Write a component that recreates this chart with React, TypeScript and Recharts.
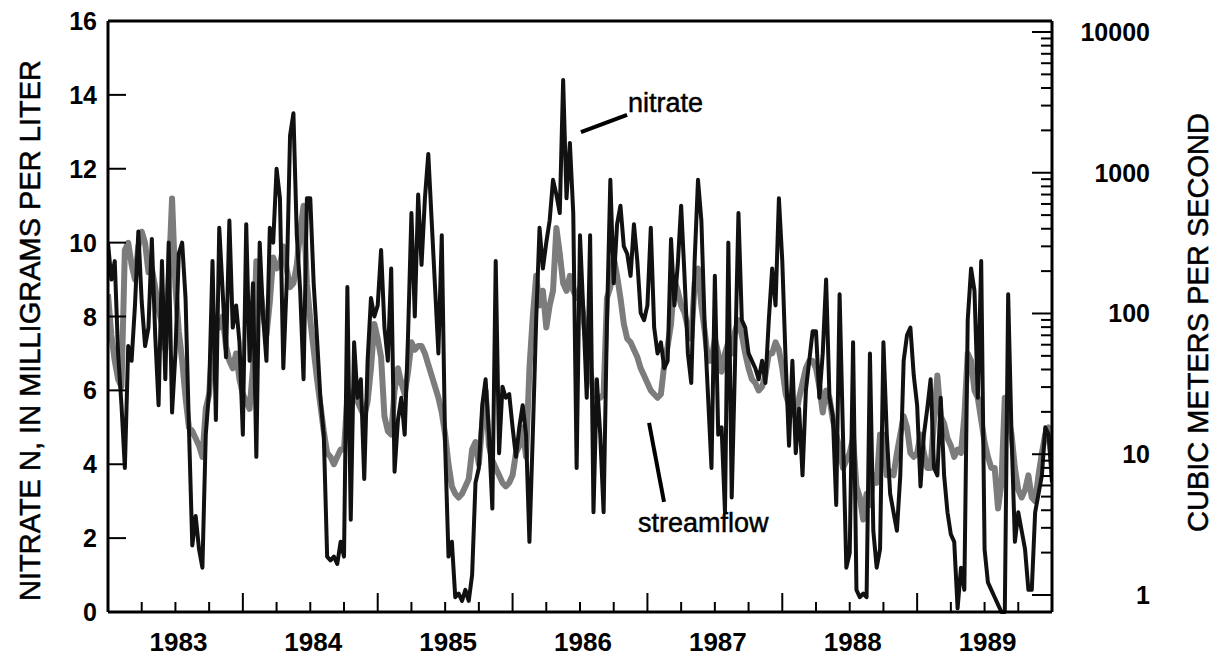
import React from "react";
import { LineChart, Line, XAxis, YAxis, ReferenceLine, ReferenceDot } from "recharts";

// sample dates, decimal years
const years = [
  1983, 1983.025, 1983.05, 1983.075, 1983.1, 1983.125, 1983.15, 1983.175, 1983.2, 1983.225,
  1983.25, 1983.275, 1983.3, 1983.325, 1983.35, 1983.375, 1983.4, 1983.425, 1983.45, 1983.475,
  1983.5, 1983.525, 1983.55, 1983.575, 1983.6, 1983.625, 1983.65, 1983.675, 1983.7, 1983.725,
  1983.75, 1983.775, 1983.8, 1983.825, 1983.85, 1983.875, 1983.9, 1983.925, 1983.95, 1983.975,
  1984, 1984.025, 1984.05, 1984.075, 1984.1, 1984.125, 1984.15, 1984.175, 1984.2, 1984.225,
  1984.25, 1984.275, 1984.3, 1984.325, 1984.35, 1984.375, 1984.4, 1984.425, 1984.45, 1984.475,
  1984.5, 1984.525, 1984.55, 1984.575, 1984.6, 1984.625, 1984.65, 1984.675, 1984.7, 1984.725,
  1984.75, 1984.775, 1984.8, 1984.825, 1984.85, 1984.875, 1984.9, 1984.925, 1984.95, 1984.975,
  1985, 1985.025, 1985.05, 1985.075, 1985.1, 1985.125, 1985.15, 1985.175, 1985.2, 1985.225,
  1985.25, 1985.275, 1985.3, 1985.325, 1985.35, 1985.375, 1985.4, 1985.425, 1985.45, 1985.475,
  1985.5, 1985.525, 1985.55, 1985.575, 1985.6, 1985.625, 1985.65, 1985.675, 1985.7, 1985.725,
  1985.75, 1985.775, 1985.8, 1985.825, 1985.85, 1985.875, 1985.9, 1985.925, 1985.95, 1985.975,
  1986, 1986.025, 1986.05, 1986.075, 1986.1, 1986.125, 1986.15, 1986.175, 1986.2, 1986.225,
  1986.25, 1986.275, 1986.3, 1986.325, 1986.35, 1986.375, 1986.4, 1986.425, 1986.45, 1986.475,
  1986.5, 1986.525, 1986.55, 1986.575, 1986.6, 1986.625, 1986.65, 1986.675, 1986.7, 1986.725,
  1986.75, 1986.775, 1986.8, 1986.825, 1986.85, 1986.875, 1986.9, 1986.925, 1986.95, 1986.975,
  1987, 1987.025, 1987.05, 1987.075, 1987.1, 1987.125, 1987.15, 1987.175, 1987.2, 1987.225,
  1987.25, 1987.275, 1987.3, 1987.325, 1987.35, 1987.375, 1987.4, 1987.425, 1987.45, 1987.475,
  1987.5, 1987.525, 1987.55, 1987.575, 1987.6, 1987.625, 1987.65, 1987.675, 1987.7, 1987.725,
  1987.75, 1987.775, 1987.8, 1987.825, 1987.85, 1987.875, 1987.9, 1987.925, 1987.95, 1987.975,
  1988, 1988.025, 1988.05, 1988.075, 1988.1, 1988.125, 1988.15, 1988.175, 1988.2, 1988.225,
  1988.25, 1988.275, 1988.3, 1988.325, 1988.35, 1988.375, 1988.4, 1988.425, 1988.45, 1988.475,
  1988.5, 1988.525, 1988.55, 1988.575, 1988.6, 1988.625, 1988.65, 1988.675, 1988.7, 1988.725,
  1988.75, 1988.775, 1988.8, 1988.825, 1988.85, 1988.875, 1988.9, 1988.925, 1988.95, 1988.975,
  1989, 1989.025, 1989.05, 1989.075, 1989.1, 1989.125, 1989.15, 1989.175, 1989.2, 1989.225,
  1989.25, 1989.275, 1989.3, 1989.325, 1989.35, 1989.375, 1989.4, 1989.425, 1989.45, 1989.475,
  1989.5, 1989.525, 1989.55, 1989.575, 1989.6, 1989.625, 1989.65, 1989.675, 1989.7, 1989.725,
  1989.75, 1989.775, 1989.8, 1989.825, 1989.85, 1989.875, 1989.9, 1989.925, 1989.95, 1989.975,
  1990,
];

// nitrate N, mg/L (left axis)
const nitrate = [
  10.0, 9.0, 9.5, 7.0, 5.6, 3.9, 7.2, 6.8, 8.3, 10.3,
  8.4, 7.2, 7.7, 10.1, 7.5, 5.6, 9.5, 6.3, 10.0, 5.4,
  7.0, 9.7, 10.0, 8.5, 5.0, 1.8, 2.6, 1.7, 1.2, 4.8,
  6.0, 9.5, 5.2, 10.4, 8.7, 6.9, 10.6, 7.7, 8.3, 7.3,
  4.8, 10.5, 6.8, 8.9, 4.2, 10.0, 8.0, 6.8, 10.4, 10.0,
  12.0, 11.2, 6.6, 8.9, 12.9, 13.5, 10.2, 8.7, 6.3, 11.2,
  11.2, 8.9, 7.4, 5.8, 4.8, 1.5, 1.4, 1.5, 1.3, 1.9,
  1.5, 8.8, 2.5, 7.3, 5.8, 6.3, 3.6, 6.8, 8.5, 8.0,
  8.3, 9.8, 7.7, 6.8, 9.3, 3.8, 5.2, 5.8, 4.8, 7.5,
  10.8, 8.0, 11.3, 9.4, 11.2, 12.4, 10.6, 8.8, 7.0, 10.2,
  4.5, 1.5, 1.9, 0.4, 0.5, 0.3, 0.6, 0.3, 1.0, 3.5,
  3.9, 5.6, 6.3, 4.8, 2.8, 9.5, 4.3, 6.1, 5.8, 5.9,
  5.0, 4.2, 5.0, 5.6, 4.8, 1.9, 4.8, 7.9, 10.4, 9.3,
  10.0, 10.6, 11.7, 11.3, 10.8, 14.4, 11.2, 12.7, 10.8, 3.9,
  10.2, 8.1, 5.8, 10.2, 2.7, 6.3, 4.8, 2.7, 7.9, 11.7,
  8.9, 10.5, 11.0, 9.9, 9.7, 9.1, 10.5, 9.5, 8.1, 7.9,
  8.3, 10.4, 7.7, 7.0, 7.3, 6.6, 6.8, 10.1, 8.3, 9.4,
  11.0, 9.1, 7.0, 6.2, 9.5, 11.7, 10.6, 7.7, 5.8, 3.9,
  9.1, 4.8, 5.0, 2.7, 10.0, 3.1, 6.8, 10.8, 7.9, 7.7,
  7.0, 6.8, 6.6, 6.3, 6.8, 6.2, 7.9, 9.3, 8.3, 11.2,
  9.5, 6.8, 4.5, 6.8, 4.3, 5.5, 3.7, 6.0, 6.8, 7.6,
  7.6, 5.8, 7.0, 9.0, 5.8, 5.3, 2.9, 8.6, 4.8, 1.2,
  1.6, 7.3, 0.6, 0.4, 0.5, 0.4, 7.0, 2.2, 1.2, 1.7,
  7.3, 4.8, 3.2, 2.7, 2.2, 3.7, 6.8, 7.5, 7.7, 6.4,
  5.6, 3.4, 4.8, 5.5, 6.3, 3.9, 3.7, 5.8, 3.7, 2.7,
  2.1, 1.9, 0.1, 1.2, 0.6, 7.9, 9.3, 8.7, 5.8, 9.5,
  1.7, 0.8, 0.6, 0.4, 0.2, 0.0, 0.0, 8.6, 4.8, 1.9,
  2.7, 2.2, 1.7, 0.6, 0.6, 2.7, 3.2, 3.7, 5.0, 4.8,
  3.5,
];

// streamflow, cubic meters per second (right axis, log)
const streamflow = [
  137, 70.3, 46.1, 34.1, 30.2, 282, 318, 222, 174, 300,
  381, 318, 196, 209, 154, 107, 84.3, 55.3, 174, 657,
  154, 74.7, 46.1, 25.2, 15.5, 14.6, 13.0, 11.5, 9.58, 21.0,
  26.7, 62.4, 89.6, 79.4, 95.1, 58.7, 46.1, 40.8, 52.0, 34.1,
  26.7, 23.7, 21.0, 40.8, 235, 164, 101, 70.3, 121, 250,
  209, 222, 300, 209, 154, 164, 222, 381, 582, 164,
  89.6, 55.3, 34.1, 22.3, 14.6, 10.2, 9.58, 8.49, 9.58, 10.8,
  10.8, 25.2, 22.3, 28.4, 23.7, 21.0, 18.6, 23.7, 40.8, 84.3,
  66.2, 49.0, 18.6, 14.6, 13.8, 28.4, 40.8, 32.1, 26.7, 38.5,
  62.4, 55.3, 58.7, 58.7, 52.0, 43.4, 36.2, 30.2, 25.2, 19.8,
  13.8, 8.49, 5.91, 5.24, 4.93, 5.24, 5.91, 6.66, 10.8, 12.2,
  8.49, 16.5, 28.4, 11.5, 9.02, 7.99, 7.08, 6.27, 5.91, 6.27,
  7.08, 10.2, 11.5, 15.5, 9.58, 40.8, 95.1, 185, 114, 145,
  79.4, 114, 145, 405, 266, 164, 145, 185, 145, 129,
  154, 95.1, 58.7, 40.8, 26.7, 25.2, 25.2, 26.7, 129, 154,
  250, 185, 129, 84.3, 66.2, 62.4, 55.3, 49.0, 40.8, 36.2,
  32.1, 28.4, 26.7, 25.2, 26.7, 43.4, 58.7, 84.3, 174, 145,
  114, 101, 79.4, 66.2, 164, 209, 114, 74.7, 46.1, 46.1,
  66.2, 52.0, 38.5, 52.0, 62.4, 52.0, 74.7, 89.6, 70.3, 52.0,
  40.8, 34.1, 32.1, 28.4, 30.2, 36.2, 52.0, 52.0, 62.4, 55.3,
  40.8, 26.7, 22.3, 19.8, 18.6, 25.2, 32.1, 40.8, 46.1, 46.1,
  40.8, 30.2, 19.8, 28.4, 25.2, 17.5, 13.8, 10.8, 7.99, 9.02,
  10.2, 13.0, 5.91, 4.93, 3.43, 5.24, 4.37, 7.08, 6.27, 13.8,
  13.8, 7.08, 7.52, 7.08, 10.2, 13.8, 18.6, 15.5, 10.2, 9.58,
  10.2, 13.8, 10.2, 7.99, 7.99, 17.5, 36.2, 18.6, 16.5, 13.0,
  11.5, 9.58, 10.8, 10.2, 18.6, 52.0, 46.1, 28.4, 25.2, 17.5,
  12.2, 9.58, 7.99, 7.99, 4.11, 6.27, 25.2, 18.6, 13.8, 7.99,
  5.56, 4.93, 5.56, 7.08, 4.93, 4.64, 7.08, 10.2, 13.8, 15.5,
  8.49,
];

const yearLabels = ["1983", "1984", "1985", "1986", "1987", "1988", "1989"];
const timeTicks = [
  1983.25, 1983.5, 1983.75, 1984, 1984.25, 1984.5, 1984.75, 1985, 1985.25, 1985.5, 1985.75,
  1986, 1986.25, 1986.5, 1986.75, 1987, 1987.25, 1987.5, 1987.75, 1988, 1988.25, 1988.5,
  1988.75, 1989, 1989.25, 1989.5, 1989.75,
];
const nitrateTicks = [0, 2, 4, 6, 8, 10, 12, 14, 16];
const flowTicks = [
  1, 2, 3, 4, 5, 6, 7, 8, 9,
  10, 20, 30, 40, 50, 60, 70, 80, 90,
  100, 200, 300, 400, 500, 600, 700, 800, 900,
  1000, 2000, 3000, 4000, 5000, 6000, 7000, 8000, 9000,
  10000,
];
const flowLabels = [1, 10, 100, 1000, 10000];

const data = years.map((t, i) => ({ t, nitrate: nitrate[i], flow: streamflow[i] }));

const FONT = "'Liberation Sans', Arial, Helvetica, sans-serif";

const TimeTick = ({ x, y, payload }: any) => {
  const v = payload.value;
  const isYear = Math.abs(v - Math.round(v)) < 1e-6;
  const isMid = Math.abs(v - Math.floor(v) - 0.5) < 1e-6;
  return (
    <g>
      <line x1={x} x2={x} y1={y} y2={y - (isYear ? 19 : 10)} stroke="#000" strokeWidth={2} />
      {isMid && (
        <text x={x + 3} y={y + 39} textAnchor="middle" fontSize={26} fontFamily={FONT} fontWeight="bold" fill="#000">
          {yearLabels[Math.floor(v) - 1983]}
        </text>
      )}
    </g>
  );
};

const NitrateTick = ({ x, y, payload }: any) => {
  const v = payload.value;
  const inner = v > 0 && v < 16;
  return (
    <g>
      {inner && <line x1={x} x2={x + 18} y1={y} y2={y} stroke="#000" strokeWidth={2} />}
      <text x={x - 11} y={y} dy="0.36em" textAnchor="end" fontSize={25} fontFamily={FONT} fontWeight="bold" fill="#000">
        {v}
      </text>
    </g>
  );
};

const FlowTick = ({ x, y, payload }: any) => {
  const v = payload.value;
  const major = flowLabels.includes(v);
  return (
    <g>
      <line x1={x} x2={x - (major ? 20 : 11)} y1={y} y2={y} stroke="#000" strokeWidth={2} />
      {major && (
        <text x={x + 98} y={y} dy="0.36em" textAnchor="end" fontSize={25} fontFamily={FONT} fontWeight="bold" fill="#000">
          {v}
        </text>
      )}
    </g>
  );
};

const AxisTitle = ({ viewBox, text, dx, dy }: any) => {
  const vb = viewBox || { x: 0, y: 21, width: 108, height: 591 };
  const cx = vb.x + dx;
  const cy = vb.y + vb.height / 2 + dy;
  return (
    <text
      x={cx}
      y={cy}
      transform={`rotate(-90 ${cx} ${cy})`}
      textAnchor="middle"
      dominantBaseline="central"
      fontSize={29}
      fontFamily={FONT}
      fill="#000"
      stroke="#000"
      strokeWidth={0.5}
    >
      {text}
    </text>
  );
};

const NoteText = ({ viewBox, text }: any) => (
  <text x={viewBox.x} y={viewBox.y} fontSize={27} fontFamily={FONT} fill="#000" stroke="#000" strokeWidth={0.5}>
    {text}
  </text>
);

// annotation anchors, in data units (year, nitrate)
const notes = [
  { text: "nitrate", at: [1986.856, 13.54], from: [1986.507, 12.99], to: [1986.849, 13.46] },
  { text: "streamflow", at: [1986.93, 2.17], from: [1987.012, 5.12], to: [1987.123, 2.98] },
];

const App: React.FC = () => {
  return (
    <div style={{ position: "absolute", left: 0, top: 0, background: "#fff" }}>
      <LineChart width={1215} height={658} data={data} margin={{ top: 21, right: 0, bottom: 0, left: 0 }}>
        <XAxis
          dataKey="t"
          type="number"
          domain={[1983, 1990]}
          ticks={timeTicks}
          interval={0}
          tick={TimeTick}
          tickLine={false}
          tickSize={0}
          tickMargin={0}
          height={46}
          axisLine={{ stroke: "#000", strokeWidth: 3 }}
          allowDataOverflow
        />
        <YAxis
          yAxisId="n"
          type="number"
          domain={[0, 16]}
          ticks={nitrateTicks}
          interval={0}
          tick={NitrateTick}
          tickLine={false}
          tickSize={0}
          tickMargin={0}
          width={108}
          axisLine={{ stroke: "#000", strokeWidth: 3 }}
          label={<AxisTitle text="NITRATE N, IN MILLIGRAMS PER LITER" dx={30} dy={14} />}
        />
        <YAxis
          yAxisId="q"
          orientation="right"
          type="number"
          scale="log"
          domain={[0.757, 11970]}
          ticks={flowTicks}
          interval={0}
          tick={FlowTick}
          tickLine={false}
          tickSize={0}
          tickMargin={0}
          width={163}
          axisLine={{ stroke: "#000", strokeWidth: 3 }}
          allowDataOverflow
          label={<AxisTitle text="CUBIC METERS PER SECOND" dx={146} dy={6} />}
        />
        <ReferenceLine yAxisId="n" y={16} stroke="#000" strokeWidth={3} />
        <Line
          yAxisId="q"
          dataKey="flow"
          type="linear"
          stroke="#7c7c7c"
          strokeWidth={6}
          strokeLinejoin="round"
          dot={false}
          isAnimationActive={false}
        />
        <Line
          yAxisId="n"
          dataKey="nitrate"
          type="linear"
          stroke="#111"
          strokeWidth={4}
          strokeLinejoin="round"
          dot={false}
          isAnimationActive={false}
        />
        {notes.map((n) => (
          <ReferenceLine
            key={n.text + "-ptr"}
            yAxisId="n"
            segment={[
              { x: n.from[0], y: n.from[1] },
              { x: n.to[0], y: n.to[1] },
            ]}
            stroke="#000"
            strokeWidth={4}
          />
        ))}
        {notes.map((n) => (
          <ReferenceDot
            key={n.text}
            yAxisId="n"
            x={n.at[0]}
            y={n.at[1]}
            r={0}
            stroke="none"
            fill="none"
            label={<NoteText text={n.text} />}
          />
        ))}
      </LineChart>
    </div>
  );
};

export default App;
